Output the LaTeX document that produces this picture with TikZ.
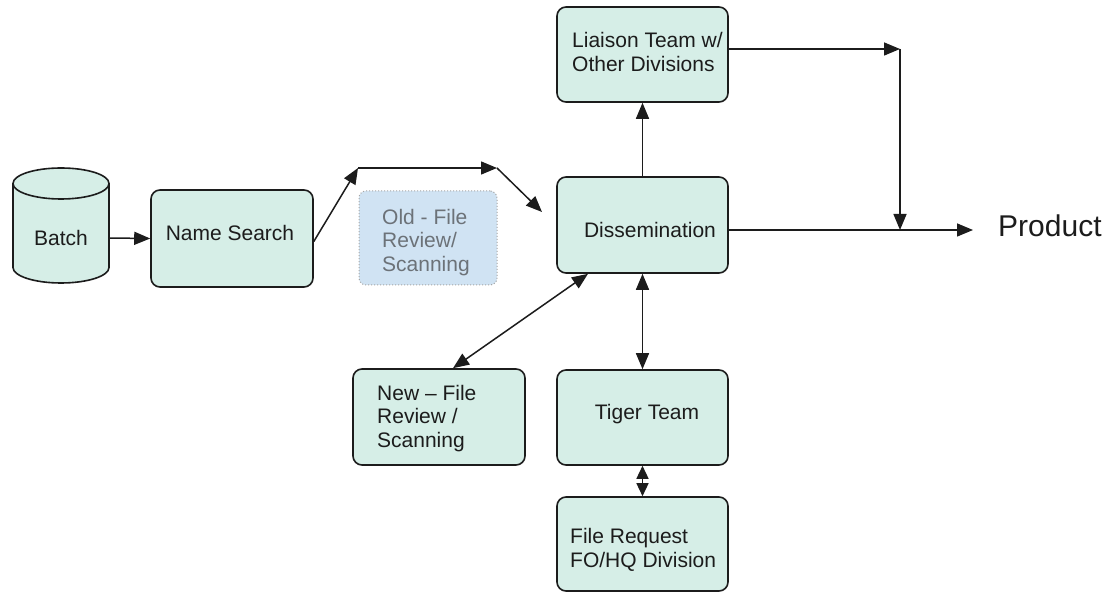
\documentclass[tikz,border=0pt]{standalone}
\usepackage{fontspec}
\setmainfont{Liberation Sans}
\usetikzlibrary{arrows.meta}
\definecolor{boxfill}{RGB}{214,238,231}
\definecolor{oldfill}{RGB}{208,227,243}
\definecolor{oldtext}{RGB}{108,114,120}
\definecolor{edge}{RGB}{28,28,28}
\begin{document}
\begin{tikzpicture}[x=1pt,y=-1pt,
  box/.style={draw=edge, line width=1.6pt, fill=boxfill, rounded corners=9pt, inner sep=0pt},
  oldbox/.style={draw=gray!70, dotted, line width=1pt, fill=oldfill, rounded corners=7pt, inner sep=0pt},
  txt/.style={font=\fontsize{21}{23.5}\selectfont, inner sep=0pt, align=left, text=edge},
  arr/.style={draw=edge, line width=1.5pt, -{Triangle[length=16pt,width=13pt]}},
  darr/.style={draw=edge, line width=1.5pt, {Triangle[length=16pt,width=13pt]}-{Triangle[length=16pt,width=13pt]}},
  sdarr/.style={draw=edge, line width=1.5pt, {Triangle[length=13pt,width=12pt]}-{Triangle[length=13pt,width=12pt]}}
]
\useasboundingbox (0,0) rectangle (1114,593);
\fill[white] (0,0) rectangle (1114,593);

% Batch cylinder
\filldraw[fill=boxfill, draw=edge, line width=1.6pt]
  (13,183.5) -- (13,267.5) arc (180:0:48 and 15.5) -- (109,183.5) arc (0:-180:48 and 15.5) -- cycle;
\draw[edge, line width=1.6pt] (13,183.5) arc (180:0:48 and 15.5);
\node[txt, minimum width=96pt] (batch) at (61,238) {Batch};

% boxes
\node[box, minimum width=162pt, minimum height=97pt] (name) at (232,238.5) {};
\node[txt] (namet) at (230,233) {Name Search};

\node[oldbox, minimum width=138pt, minimum height=94pt] (old) at (428,238) {};
\node[txt, text=oldtext, anchor=west] (oldt) at (382,242.5) {Old - File\\Review/\\Scanning};

\node[box, minimum width=171pt, minimum height=96pt] (diss) at (642.5,225) {};
\node[txt] (disst) at (650,230) {Dissemination};

\node[box, minimum width=171pt, minimum height=95pt] (liaison) at (642.5,54.5) {};
\node[txt, anchor=west] (liaisont) at (572,52) {Liaison Team w/\\Other Divisions};

\node[box, minimum width=172pt, minimum height=96pt] (new) at (439,417) {};
\node[txt, anchor=west] (newt) at (377,418.5) {New – File\\Review /\\Scanning};

\node[box, minimum width=171pt, minimum height=95pt] (tiger) at (642.5,417.5) {};
\node[txt] (tigert) at (647,414) {Tiger Team};

\node[box, minimum width=171pt, minimum height=94pt] (filereq) at (642.5,544) {};
\node[txt, anchor=west] (filereqt) at (570,550) {File Request\\FO/HQ Division};

\node[font=\fontsize{30}{36}\selectfont, inner sep=0pt, anchor=west, text=edge] (product) at (998,226) {Product};

% coordinates for free ends / bends
\coordinate (k1) at (358,168);
\coordinate (k2) at (497,168);
\coordinate (k3) at (542,212);
\coordinate (j1) at (900,49);
\coordinate (j2) at (900,230);

% connectors
\draw[arr] (batch.east) -- (name.west);
\draw[arr] ([yshift=-3pt]name.east) -- (k1);
\draw[arr] (k1) -- (k2);
\draw[arr] (k2) -- (k3);
\draw[arr] (diss.north) -- (liaison.south);
\draw[arr] (liaison.east |- j1) -- (j1);
\draw[arr] (j1) -- (j2);
\draw[arr] (diss.east |- j2) -- ([xshift=-25pt]product.west |- j2);
\draw[darr] ([xshift=14pt]new.north) -- ([xshift=-54.5pt]diss.south);
\draw[darr] (diss.south) -- (tiger.north);
\draw[sdarr] (tiger.south) -- (filereq.north);
\end{tikzpicture}
\end{document}
